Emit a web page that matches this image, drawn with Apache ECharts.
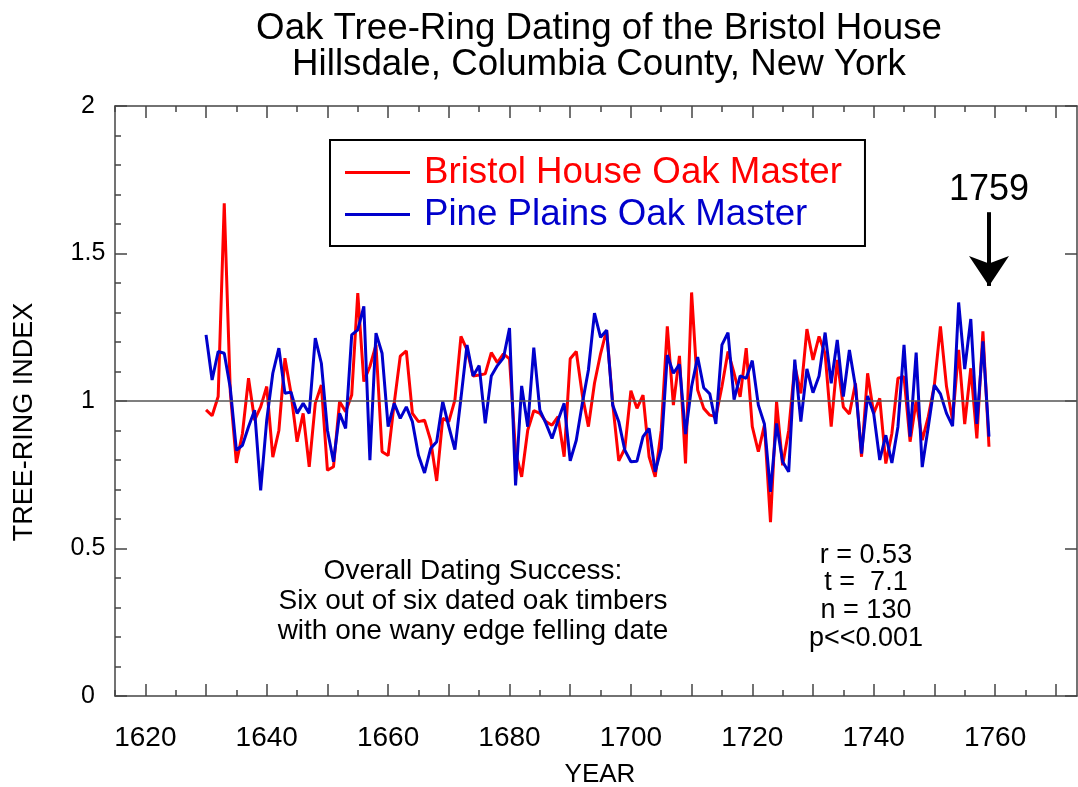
<!DOCTYPE html>
<html>
<head>
<meta charset="utf-8">
<script src="https://cdn.jsdelivr.net/npm/echarts@6/dist/echarts.min.js"></script>
<style>
html,body{margin:0;padding:0;background:#fff;}
#chart{width:1078px;height:787px;}
</style>
</head>
<body>
<div id="chart"></div>
<script>
// ---- data ----
const startYear = 1630;
const bristolOak = [
  0.970, 0.950, 1.015, 1.670, 1.030, 0.790, 0.890, 1.077, 0.935, 0.980,
  1.049, 0.810, 0.900, 1.145, 1.026, 0.862, 0.958, 0.777, 0.992, 1.054,
  0.765, 0.777, 0.998, 0.964, 1.020, 1.366, 1.066, 1.117, 1.190, 0.828,
  0.815, 0.992, 1.152, 1.170, 0.958, 0.930, 0.935, 0.867, 0.729, 0.941,
  0.930, 1.003, 1.219, 1.173, 1.085, 1.088, 1.092, 1.164, 1.130, 1.160,
  1.143, 0.828, 0.743, 0.901, 0.967, 0.958, 0.930, 0.918, 0.947, 0.811,
  1.143, 1.168, 1.020, 0.913, 1.060, 1.160, 1.240, 0.992, 0.797, 0.839,
  1.035, 0.975, 1.020, 0.811, 0.743, 0.901, 1.253, 0.986, 1.153, 0.788,
  1.368, 1.037, 0.975, 0.952, 0.947, 1.049, 1.168, 1.094, 1.014, 1.179,
  0.913, 0.828, 0.918, 0.589, 0.998, 0.782, 0.900, 1.120, 1.026, 1.244,
  1.139, 1.219, 1.160, 0.913, 1.139, 0.980, 0.956, 1.060, 0.811, 1.094,
  0.958, 1.009, 0.788, 0.890, 1.077, 1.082, 0.862, 1.000, 0.867, 0.947,
  1.054, 1.253, 1.049, 0.935, 1.173, 0.922, 1.111, 0.873, 1.236, 0.845
];
const pinePlainsOak = [
  1.224, 1.071, 1.168, 1.162, 1.043, 0.833, 0.850, 0.913, 0.969, 0.697,
  0.935, 1.094, 1.179, 1.026, 1.030, 0.958, 0.992, 0.958, 1.213, 1.128,
  0.901, 0.794, 0.958, 0.907, 1.224, 1.241, 1.321, 0.799, 1.230, 1.162,
  0.913, 0.992, 0.941, 0.980, 0.930, 0.816, 0.756, 0.839, 0.862, 0.998,
  0.913, 0.835, 1.010, 1.190, 1.085, 1.120, 0.924, 1.085, 1.120, 1.146,
  1.247, 0.714, 1.051, 0.913, 1.181, 0.969, 0.924, 0.873, 0.935, 0.992,
  0.797, 0.867, 0.992, 1.105, 1.298, 1.216, 1.240, 0.986, 0.930, 0.833,
  0.794, 0.796, 0.879, 0.907, 0.760, 0.839, 1.156, 1.094, 1.124, 0.888,
  1.049, 1.149, 1.045, 1.024, 0.922, 1.190, 1.232, 1.005, 1.085, 1.077,
  1.137, 0.986, 0.922, 0.692, 0.924, 0.794, 0.760, 1.140, 0.930, 1.109,
  1.028, 1.085, 1.232, 1.060, 1.207, 1.015, 1.173, 1.049, 0.822, 1.017,
  0.958, 0.800, 0.884, 0.790, 0.913, 1.190, 0.879, 1.164, 0.776, 0.913,
  1.054, 1.024, 0.958, 0.915, 1.334, 1.108, 1.278, 0.922, 1.202, 0.879
];
const seriesNames = ['Bristol House Oak Master', 'Pine Plains Oak Master'];
const xMajorTicks = [1620,1630,1640,1650,1660,1670,1680,1690,1700,1710,1720,1730,1740,1750,1760,1770];
const xMinorTicks = [1615,1625,1635,1645,1655,1665,1675,1685,1695,1705,1715,1725,1735,1745,1755,1765];
const xTickLabels = [1620,1640,1660,1680,1700,1720,1740,1760];
const fellingYear = 1759;
const titleLines = ['Oak Tree-Ring Dating of the Bristol House', 'Hillsdale, Columbia County, New York'];
const noteLines = ['Overall Dating Success:', 'Six out of six dated oak timbers', 'with one wany edge felling date'];
const statLines = ['r = 0.53', 't =  7.1', 'n = 130', 'p<<0.001'];

const FONT = '"Liberation Sans", Arial, Helvetica, sans-serif';
const AX = '#444';
const toPairs = arr => arr.map((v, i) => [startYear + i, v]);

const chart = echarts.init(document.getElementById('chart'), null, {renderer: 'canvas'});

function xAxisBase(pos, custom, len, showLine, showLabel) {
  return {
    type: 'value', position: pos, min: 1615, max: 1773.5,
    axisLine: {show: showLine, onZero: false, lineStyle: {color: AX, width: 1.5}},
    axisTick: {show: true, inside: true, length: len, customValues: custom, lineStyle: {color: AX, width: 1.5}},
    axisLabel: showLabel ? {show: true, customValues: xTickLabels, margin: 42, verticalAlign: 'middle',
      formatter: v => String(v), fontSize: 28, color: '#000', fontFamily: FONT} : {show: false},
    splitLine: {show: false}
  };
}

const option = {
  animation: false,
  backgroundColor: '#fff',
  grid: {left: 115, top: 106, width: 962, height: 590, containLabel: false},
  legend: {
    orient: 'vertical', left: 330, top: 140,
    padding: [14, 23, 13, 15],
    borderColor: '#000', borderWidth: 2, backgroundColor: '#fff',
    itemWidth: 65, itemHeight: 3, itemGap: 5, icon: 'rect',
    selectedMode: false,
    textStyle: {fontSize: 36.7, lineHeight: 36, fontFamily: FONT, padding: [0, 0, 0, 9]},
    data: [
      {name: seriesNames[0], textStyle: {color: '#ff0000'}},
      {name: seriesNames[1], textStyle: {color: '#0000cc'}}
    ]
  },
  xAxis: [
    xAxisBase('bottom', xMajorTicks, 12, true, true),
    xAxisBase('bottom', xMinorTicks, 6, false, false),
    xAxisBase('top', xMajorTicks, 12, true, false),
    xAxisBase('top', xMinorTicks, 6, false, false)
  ],
  yAxis: [
    {
      type: 'value', position: 'left', min: 0, max: 2, interval: 0.5,
      axisLine: {show: true, lineStyle: {color: AX, width: 1.5}},
      axisTick: {show: true, inside: true, length: 12, lineStyle: {color: AX, width: 1.5}},
      minorTick: {show: true, splitNumber: 5, length: 6, lineStyle: {color: AX, width: 1.5}},
      axisLabel: {fontSize: 25, color: '#000', fontFamily: FONT, margin: 27, align: 'center'},
      splitLine: {show: false}
    },
    {
      type: 'value', position: 'right', min: 0, max: 2, interval: 0.5,
      axisLine: {show: true, lineStyle: {color: AX, width: 1.5}},
      axisTick: {show: true, inside: true, length: 12, lineStyle: {color: AX, width: 1.5}},
      axisLabel: {show: false},
      splitLine: {show: false}
    }
  ],
  series: [
    {
      name: 'ref', type: 'line', data: [], z: 1, silent: true,
      markLine: {
        silent: true, animation: false, symbol: ['none', 'none'],
        label: {show: false},
        lineStyle: {color: '#555', width: 1.5, type: 'solid'},
        data: [{yAxis: 1}]
      }
    },
    {
      name: 'felling', type: 'line', data: [], z: 5, silent: true,
      markLine: {
        silent: true, animation: false,
        symbol: ['none', 'arrow'], symbolSize: 30,
        lineStyle: {color: '#000', width: 4, type: 'solid'},
        itemStyle: {color: '#000'},
        label: {show: true, position: 'start', formatter: String(fellingYear), fontSize: 36,
                color: '#000', fontFamily: FONT, distance: 4},
        data: [[{coord: [fellingYear, 1.64]}, {coord: [fellingYear, 1.39]}]]
      }
    },
    {
      name: seriesNames[0], type: 'line', data: toPairs(bristolOak), z: 3,
      showSymbol: false, symbol: 'none',
      lineStyle: {color: '#ff0000', width: 3}, itemStyle: {color: '#ff0000'}
    },
    {
      name: seriesNames[1], type: 'line', data: toPairs(pinePlainsOak), z: 4,
      showSymbol: false, symbol: 'none',
      lineStyle: {color: '#0000cc', width: 3}, itemStyle: {color: '#0000cc'}
    }
  ],
  graphic: [
    {type: 'text', x: 599, y: 29, style: {text: titleLines[0], font: '36.7px ' + FONT, fill: '#000', textAlign: 'center', textVerticalAlign: 'middle'}},
    {type: 'text', x: 599, y: 65, style: {text: titleLines[1], font: '36.7px ' + FONT, fill: '#000', textAlign: 'center', textVerticalAlign: 'middle'}},
    {type: 'text', x: 473, y: 571, style: {text: noteLines[0], font: '28px ' + FONT, fill: '#000', textAlign: 'center', textVerticalAlign: 'middle'}},
    {type: 'text', x: 473, y: 601, style: {text: noteLines[1], font: '28px ' + FONT, fill: '#000', textAlign: 'center', textVerticalAlign: 'middle'}},
    {type: 'text', x: 473, y: 631, style: {text: noteLines[2], font: '28px ' + FONT, fill: '#000', textAlign: 'center', textVerticalAlign: 'middle'}},
    {type: 'text', x: 866, y: 556, style: {text: statLines[0], font: '27px ' + FONT, fill: '#000', textAlign: 'center', textVerticalAlign: 'middle'}},
    {type: 'text', x: 866, y: 583, style: {text: statLines[1], font: '27px ' + FONT, fill: '#000', textAlign: 'center', textVerticalAlign: 'middle'}},
    {type: 'text', x: 866, y: 611, style: {text: statLines[2], font: '27px ' + FONT, fill: '#000', textAlign: 'center', textVerticalAlign: 'middle'}},
    {type: 'text', x: 866, y: 639, style: {text: statLines[3], font: '27px ' + FONT, fill: '#000', textAlign: 'center', textVerticalAlign: 'middle'}},
    {type: 'text', x: 600, y: 775, style: {text: 'YEAR', font: '26px ' + FONT, fill: '#000', textAlign: 'center', textVerticalAlign: 'middle'}},
    {type: 'text', x: 25, y: 422, rotation: Math.PI / 2, style: {text: 'TREE-RING INDEX', font: '27px ' + FONT, fill: '#000', textAlign: 'center', textVerticalAlign: 'middle'}}
  ]
};
chart.setOption(option);
</script>
</body>
</html>
